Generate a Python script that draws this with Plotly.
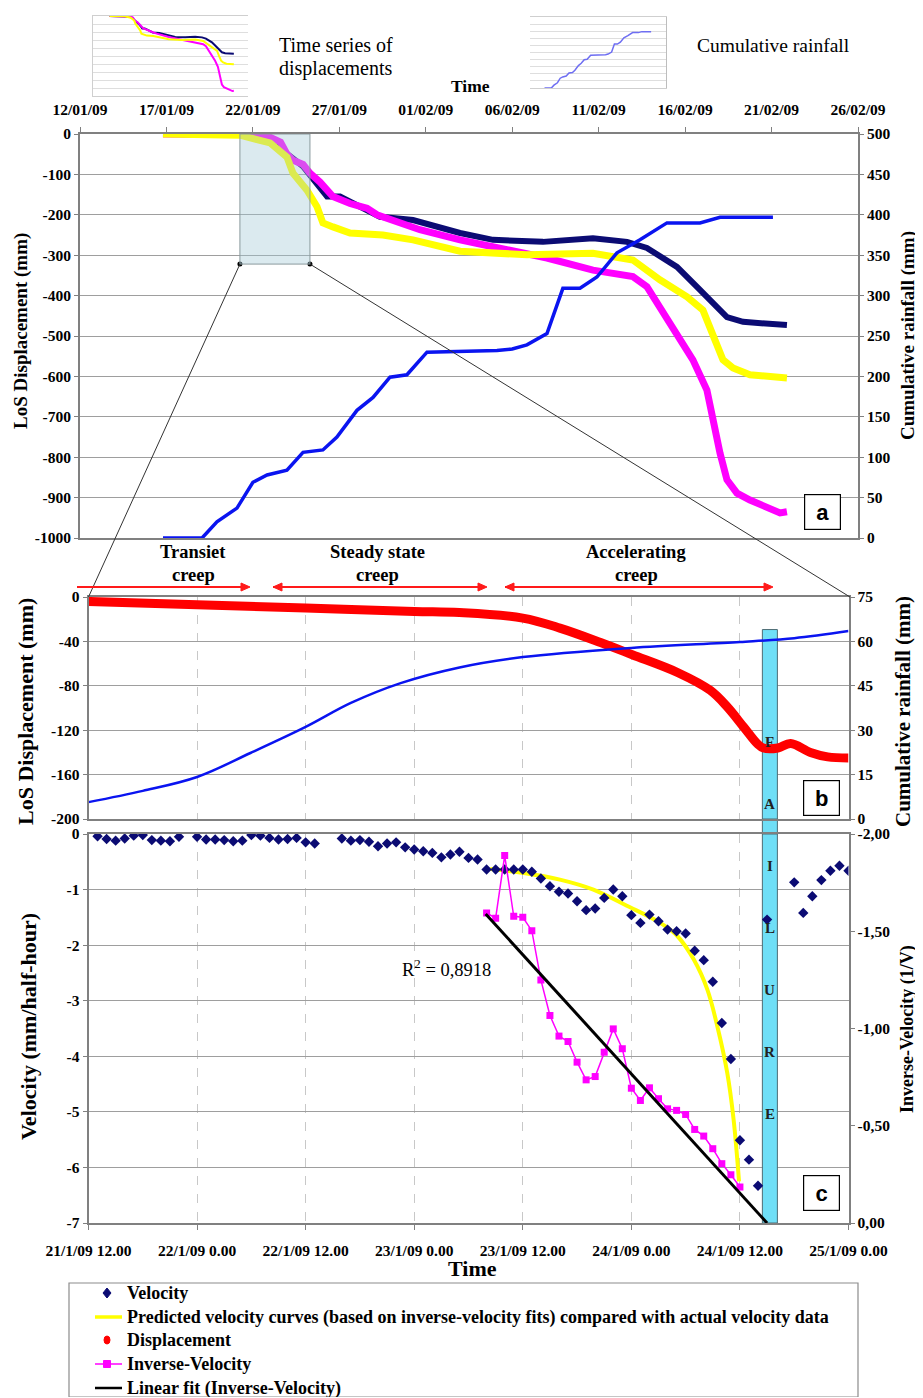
import pandas as pd
import plotly.graph_objects as go

PAGE_W, PAGE_H = 923, 1398
OFF = 8                      # browser body margin
W, H = 914, 1389             # figure size inside the page

# ---------------- data ----------------
# Panel a (days since 12/01/09)
disp_base = "2009-01-12"
navy_days = [4.80, 9.25, 11.0, 12.0, 12.9, 13.5, 14.05, 14.29, 15.04, 15.79, 17.35, 19.26,
             21.98, 23.89, 26.78, 29.67, 31.64, 32.79, 34.53, 35.86, 36.61, 37.42, 38.35, 40.89]
navy_mm = [0, -2, -10, -50, -80, -110, -140, -155, -155, -172, -205, -213,
           -245, -262, -267, -258, -267, -282, -329, -386, -418, -453, -465, -473]
magenta_days = [4.80, 9.25, 10.99, 11.6, 11.97, 12.32, 12.9, 13.30, 13.88, 14.63, 15.62, 16.60,
                17.18, 18.51, 19.66, 21.98, 24.99, 27.01, 29.67, 31.98, 32.79, 33.54, 34.53,
                35.45, 36.26, 36.61, 37.02, 37.42, 38.0, 38.75, 39.73, 40.49, 40.89]
magenta_mm = [0, 0, -8, -20, -50, -65, -75, -97, -119, -155, -172, -184,
              -200, -220, -237, -262, -290, -307, -337, -353, -378, -428, -502,
              -559, -634, -708, -790, -856, -889, -906, -923, -938, -935]
yellow_days = [4.80, 9.25, 10.99, 11.97, 12.32, 13.13, 13.71, 14.05, 14.63, 15.62, 17.52, 19.26,
               21.98, 25.85, 29.67, 31.98, 33.54, 35.11, 36.03, 36.61, 37.19, 37.77, 38.75, 40.89]
yellow_mm = [0, -3, -22, -57, -97, -139, -180, -220, -230, -245, -250, -262,
             -290, -299, -295, -312, -361, -403, -436, -502, -559, -579, -596, -604]
rain_days = [4.80, 7.06, 7.92, 9.08, 10.0, 10.82, 11.97, 12.9, 14.05, 14.86, 16.02, 16.95,
             17.93, 18.91, 20.07, 24.12, 25.0, 25.85, 27.01, 27.93, 28.92, 29.90, 31.06,
             32.39, 33.95, 35.86, 37.02, 40.08]
rain_mm = [0, 0, 20, 37, 69, 78, 84, 106, 109, 125, 158, 174,
           199, 202, 230, 232, 234, 239, 253, 309, 309, 323, 353,
           369, 390, 390, 397, 397]
zoom_window_days = [9.25, 13.3]
zoom_window_depth = -322
a_tick_days = [0, 5, 10, 15, 20, 25, 30, 35, 40, 45]
a_tick_text = ["12/01/09", "17/01/09", "22/01/09", "27/01/09", "01/02/09",
               "06/02/09", "11/02/09", "16/02/09", "21/02/09", "26/02/09"]
a_disp_ticks = [0, -100, -200, -300, -400, -500, -600, -700, -800, -900, -1000]
a_disp_text = ["0", "-100", "-200", "-300", "-400", "-500", "-600", "-700", "-800", "-900", "-1000"]

# Panels b, c (hours since 21/1/09 12.00)
detail_base = "2009-01-21 12:00"
b_hours = [0, 12, 24, 36, 41, 48, 52.1, 56.6, 60.1, 65.1, 68.7, 70.6, 72.4, 73.9, 74.6,
           76.2, 77.6, 79.8, 81.7, 84]
b_disp = [-4, -7, -10, -13, -14, -19, -28, -41, -52, -68, -84, -99, -117, -132, -136,
          -136, -132, -140, -144, -145]
b_rain_hours = [0, 6, 12, 17.9, 24, 29, 34.5, 41, 48, 60, 72, 78, 84]
b_rain_mm = [5.7, 9.5, 14.2, 22.3, 31.1, 39.2, 45.9, 51.2, 54.7, 57.8, 59.8, 61.1, 63.5]
b_disp_ticks = [0, -40, -80, -120, -160, -200]
b_disp_text = ["0", "-40", "-80", "-120", "-160", "-200"]

vel_hours = [1, 2, 3, 4, 5, 6, 7, 8, 9, 10,
             12, 13, 14, 15, 16, 17, 18, 19, 20, 21, 22, 23, 24, 25,
             28, 29, 30, 31, 32, 33, 34, 35, 36, 37, 38, 39, 40, 41,
             42, 43, 44, 45, 46, 47, 48, 49, 50, 51, 52, 53, 54, 55, 56, 57, 58, 59,
             60, 61, 62, 63, 64, 65, 66, 67, 68, 69, 70, 71, 72, 73, 74, 75,
             78, 79, 80, 81, 82, 83, 84]
velocity = [-0.04, -0.09, -0.12, -0.08, -0.03, -0.02, -0.11, -0.12, -0.13, -0.05,
            -0.05, -0.10, -0.10, -0.11, -0.13, -0.12, -0.02, -0.03, -0.07, -0.10, -0.09, -0.07, -0.15, -0.17,
            -0.08, -0.12, -0.11, -0.14, -0.22, -0.17, -0.15, -0.24, -0.28, -0.31, -0.34, -0.42, -0.37, -0.32,
            -0.43, -0.46, -0.64, -0.64, -0.64, -0.64, -0.64, -0.68, -0.80, -0.94, -1.04, -1.07, -1.21, -1.37,
            -1.34, -1.15, -1.00, -1.12,
            -1.46, -1.60, -1.45, -1.57, -1.72, -1.75, -1.79, -2.10, -2.27, -2.66, -3.40, -4.05, -5.51, -5.86,
            -6.33, -1.54,
            -0.87, -1.42, -1.12, -0.83, -0.66, -0.57, -0.66]
pred_hours = [44.4, 48.1, 52.1, 55.8, 59.5, 63.2, 65.1, 66.9, 68.4, 69.5, 70.6, 71.3, 71.9]
pred_velocity = [-0.63, -0.70, -0.82, -1.0, -1.29, -1.6, -1.84, -2.26, -2.80, -3.46, -4.30, -5.14, -6.25]
inv_hours = [44, 45, 46, 47, 48, 49, 50, 51, 52, 53, 54, 55, 56, 57, 58, 59,
             60, 61, 62, 63, 64, 65, 66, 67, 68, 69, 70, 71, 72]
inv_velocity = [-1.594, -1.567, -1.889, -1.577, -1.572, -1.503, -1.250, -1.067, -0.961, -0.933,
                -0.827, -0.736, -0.753, -0.878, -0.998, -0.896, -0.693, -0.630, -0.695, -0.639,
                -0.587, -0.579, -0.558, -0.481, -0.447, -0.382, -0.305, -0.248, -0.185]
fit_hours = [43.9, 75.0]
fit_inv_velocity = [-1.589, 0.0]
failure_hours = [74.48, 76.14]
failure_top_rain = 64
c_tick_hours = [0, 12, 24, 36, 48, 60, 72, 84]
c_tick_text = ["21/1/09 12.00", "22/1/09 0.00", "22/1/09 12.00", "23/1/09 0.00",
               "23/1/09 12.00", "24/1/09 0.00", "24/1/09 12.00", "25/1/09 0.00"]
vel_ticks = [0, -1, -2, -3, -4, -5, -6, -7]
vel_tick_text = ["0", "-1", "-2", "-3", "-4", "-5", "-6", "-7"]
inv_ticks = [0, -0.5, -1.0, -1.5, -2.0]
inv_tick_text = ["0,00", "-0,50", "-1,00", "-1,50", "-2,00"]
r2_text = "R<sup>2</sup> = 0,8918"
legend_labels = ["Velocity",
                 "Predicted velocity curves (based on inverse-velocity fits) compared with actual velocity data",
                 "Displacement", "Inverse-Velocity", "Linear fit (Inverse-Velocity)"]

# ---------------- helpers ----------------
SERIF = "Liberation Serif"
SANS = "Liberation Sans"
GRID = "#9e9e9e"
AXIS = "#808080"
NAVY = "#0b0b73"
MAG = "#ff00ff"
YEL = "#ffff00"
BLUE = "#0a14f0"


def pxx(x):
    return (x - OFF) / W


def pxy(y):
    return 1 - (y - OFF) / H


A_X = [pxx(80), pxx(858)]
A_Y = [pxy(538), pxy(134)]
BC_X = [pxx(88.5), pxx(848.5)]
B_Y = [pxy(819), pxy(597)]
C_Y = [pxy(1223), pxy(834)]
T1_X = [pxx(93), pxx(248)]
T1_Y = [pxy(96), pxy(16)]
T2_X = [pxx(530), pxx(666)]
T2_Y = [pxy(88), pxy(17)]

base_a = pd.Timestamp(disp_base)
base_c = pd.Timestamp(detail_base)


def ta(days):
    return [base_a + pd.Timedelta(days=float(d)) for d in days]


def tc(hours):
    return [base_c + pd.Timedelta(hours=float(h)) for h in hours]


A_RANGE = [base_a, base_a + pd.Timedelta(days=45)]
C_RANGE = [base_c, base_c + pd.Timedelta(hours=84)]


def a_paper_x(d):
    return A_X[0] + d / 45 * (A_X[1] - A_X[0])


def a_paper_y(v):
    return A_Y[0] + (v + 1000) / 1000 * (A_Y[1] - A_Y[0])


tick_font = dict(family=SERIF, size=15.5, color="black", weight="bold")

fig = go.Figure()

# ---- panel a ----
fig.add_trace(go.Scatter(x=ta(navy_days), y=navy_mm, mode="lines", line=dict(color=NAVY, width=6),
                         xaxis="x", yaxis="y", showlegend=False, name="Displacement (navy)"))
fig.add_trace(go.Scatter(x=ta(magenta_days), y=magenta_mm, mode="lines", line=dict(color=MAG, width=7),
                         xaxis="x", yaxis="y", showlegend=False, name="Displacement (magenta)"))
fig.add_trace(go.Scatter(x=ta(yellow_days), y=yellow_mm, mode="lines", line=dict(color=YEL, width=7),
                         xaxis="x", yaxis="y", showlegend=False, name="Displacement (yellow)"))
fig.add_trace(go.Scatter(x=ta(zoom_window_days), y=[zoom_window_depth] * 2, mode="markers",
                         marker=dict(color="black", size=5), xaxis="x", yaxis="y", showlegend=False))
fig.add_trace(go.Scatter(x=ta(rain_days), y=rain_mm, mode="lines", line=dict(color=BLUE, width=3.5),
                         xaxis="x", yaxis="y2", showlegend=False, name="Cumulative rainfall"))

# ---- thumbnails ----
for d, v, c in [(navy_days, navy_mm, NAVY), (magenta_days, magenta_mm, MAG), (yellow_days, yellow_mm, YEL)]:
    fig.add_trace(go.Scatter(x=ta(d), y=v, mode="lines", line=dict(color=c, width=2),
                             xaxis="x4", yaxis="y7", showlegend=False))
fig.add_trace(go.Scatter(x=ta(rain_days), y=rain_mm, mode="lines", line=dict(color="#6e6ef2", width=1.5),
                         xaxis="x5", yaxis="y8", showlegend=False))

# ---- panel b ----
fig.add_trace(go.Scatter(x=tc(b_hours), y=b_disp, mode="lines", line=dict(color="#ff0000", width=9, shape="spline"),
                         xaxis="x2", yaxis="y3", showlegend=False, name="Displacement"))
fig.add_trace(go.Scatter(x=tc(b_rain_hours), y=b_rain_mm, mode="lines",
                         line=dict(color=BLUE, width=2.5, shape="spline"),
                         xaxis="x2", yaxis="y4", showlegend=False, name="Cumulative rainfall"))

# ---- panel c ----
fig.add_trace(go.Scatter(x=tc(pred_hours), y=pred_velocity, mode="lines",
                         line=dict(color=YEL, width=4, shape="spline"),
                         xaxis="x3", yaxis="y5", showlegend=False, name="Predicted velocity"))
fig.add_trace(go.Scatter(x=tc(vel_hours), y=velocity, mode="markers",
                         marker=dict(symbol="diamond", color=NAVY, size=8),
                         xaxis="x3", yaxis="y5", showlegend=False, name="Velocity"))
fig.add_trace(go.Scatter(x=tc(inv_hours), y=inv_velocity, mode="lines+markers",
                         line=dict(color=MAG, width=1.5),
                         marker=dict(symbol="square", color=MAG, size=7),
                         xaxis="x3", yaxis="y6", showlegend=False, name="Inverse-Velocity"))
fig.add_trace(go.Scatter(x=tc(fit_hours), y=fit_inv_velocity, mode="lines",
                         line=dict(color="black", width=3),
                         xaxis="x3", yaxis="y6", showlegend=False, name="Linear fit"))


# ---------------- axes ----------------
def yax(domain, rng, anchor, tickvals, ticktext, grid=True, side="left", overlaying=None):
    d = dict(domain=domain, range=rng, anchor=anchor, side=side, showgrid=grid, gridcolor=GRID, gridwidth=1.3,
             zeroline=False, showline=True, linecolor=AXIS, linewidth=2, ticks="outside", ticklen=4,
             tickcolor=AXIS, tickfont=tick_font, automargin=False,
             tickmode="array", tickvals=tickvals, ticktext=ticktext)
    if overlaying:
        d["overlaying"] = overlaying
    return d


rain_a_ticks = list(range(0, 501, 50))
rain_b_ticks = list(range(0, 76, 15))

layout = dict(
    width=W, height=H, margin=dict(l=0, r=0, t=0, b=0, pad=0, autoexpand=False), autosize=False,
    paper_bgcolor="white", plot_bgcolor="white", showlegend=False,
    xaxis=dict(domain=A_X, anchor="y", side="top", type="date", range=A_RANGE,
               tickmode="array", tickvals=ta(a_tick_days), ticktext=a_tick_text,
               tickfont=tick_font, ticks="outside", ticklen=5, tickcolor=AXIS,
               ticklabelstandoff=6, showgrid=False, zeroline=False, automargin=False,
               showline=True, linecolor=AXIS, linewidth=1.5, mirror=True),
    yaxis=yax(A_Y, [-1000, 0], "x", a_disp_ticks, a_disp_text),
    yaxis2=yax(A_Y, [0, 500], "x", rain_a_ticks, [str(v) for v in rain_a_ticks],
               grid=False, side="right", overlaying="y"),
    xaxis2=dict(domain=BC_X, anchor="y3", type="date", range=C_RANGE, tickmode="array",
                tickvals=tc(c_tick_hours), showticklabels=False, ticks="", automargin=False,
                showgrid=True, gridcolor="#c8c8c8", griddash="dash", gridwidth=1,
                zeroline=False, showline=True, linecolor=AXIS, linewidth=1.5, mirror=True),
    yaxis3=yax(B_Y, [-200, 0], "x2", b_disp_ticks, b_disp_text),
    yaxis4=yax(B_Y, [0, 75], "x2", rain_b_ticks, [str(v) for v in rain_b_ticks],
               grid=False, side="right", overlaying="y3"),
    xaxis3=dict(domain=BC_X, anchor="y5", type="date", range=C_RANGE, tickmode="array",
                tickvals=tc(c_tick_hours), ticktext=c_tick_text, tickfont=tick_font,
                ticks="outside", ticklen=5, tickcolor=AXIS, ticklabelstandoff=7, automargin=False,
                showgrid=True, gridcolor="#c8c8c8", griddash="dash", gridwidth=1,
                zeroline=False, showline=True, linecolor=AXIS, linewidth=2, mirror=True),
    yaxis5=yax(C_Y, [-7, 0], "x3", vel_ticks, vel_tick_text),
    yaxis6=yax(C_Y, [0, -2], "x3", inv_ticks, inv_tick_text, grid=False, side="right", overlaying="y5"),
    xaxis4=dict(domain=T1_X, anchor="y7", type="date", range=A_RANGE, showticklabels=False, automargin=False,
                showgrid=False, zeroline=False, showline=True, linecolor="#cfcfcf", mirror=True),
    yaxis7=dict(domain=T1_Y, anchor="x4", range=[-1000, 0], dtick=100, showticklabels=False, automargin=False,
                showgrid=True, gridcolor="#dedede", zeroline=False, showline=True, linecolor="#cfcfcf"),
    xaxis5=dict(domain=T2_X, anchor="y8", type="date", range=A_RANGE, showticklabels=False, automargin=False,
                showgrid=False, zeroline=False, showline=True, linecolor="#cfcfcf", mirror=True),
    yaxis8=dict(domain=T2_Y, anchor="x5", side="right", range=[0, 500], dtick=50, showticklabels=False,
                automargin=False, showgrid=True, gridcolor="#dedede", zeroline=False, showline=True,
                linecolor="#bdbdbd"),
)
fig.update_layout(**layout)

# ---------------- shapes ----------------
shapes = []
# zoom window in panel a
shapes.append(dict(type="rect", xref="x", yref="y", x0=ta([zoom_window_days[0]])[0], x1=ta([zoom_window_days[1]])[0],
                   y0=zoom_window_depth, y1=0, fillcolor="rgba(160,200,212,0.38)",
                   line=dict(color="#8a9a9e", width=1), layer="above"))
# connectors
shapes.append(dict(type="line", xref="paper", yref="paper",
                   x0=a_paper_x(zoom_window_days[0]), y0=a_paper_y(zoom_window_depth),
                   x1=BC_X[0], y1=B_Y[1], line=dict(color="#333333", width=1)))
shapes.append(dict(type="line", xref="paper", yref="paper",
                   x0=a_paper_x(zoom_window_days[1]), y0=a_paper_y(zoom_window_depth),
                   x1=pxx(850), y1=B_Y[1], line=dict(color="#333333", width=1)))
# failure bar (panel b part, gap, panel c part)
FAIL_FILL = "#6fdff7"
FAIL_LINE = "#4d6b73"
fx0, fx1 = tc(failure_hours)
top_b = -200 + failure_top_rain / 75 * 200
shapes.append(dict(type="rect", xref="x2", yref="y3", x0=fx0, x1=fx1, y0=-200, y1=top_b,
                   fillcolor=FAIL_FILL, line=dict(color=FAIL_LINE, width=1), layer="between"))
shapes.append(dict(type="rect", xref="x3", yref="y5", x0=fx0, x1=fx1, y0=-7, y1=0,
                   fillcolor=FAIL_FILL, line=dict(color=FAIL_LINE, width=1), layer="between"))
shapes.append(dict(type="rect", xref="x3", yref="paper", x0=fx0, x1=fx1, y0=C_Y[1], y1=B_Y[0],
                   fillcolor=FAIL_FILL, line=dict(color=FAIL_LINE, width=1), layer="below"))


# phase arrows (lines + triangular heads)
def head(xh, y, direction):
    return dict(type="path", xref="paper", yref="paper",
                path=f"M {pxx(xh)},{pxy(y)} L {pxx(xh - 9 * direction)},{pxy(y - 4)} "
                     f"L {pxx(xh - 9 * direction)},{pxy(y + 4)} Z",
                fillcolor="#ff1a1a", line=dict(color="#ff1a1a", width=1))


ARROW_Y = 587
for x0, x1, both in [(77, 250, False), (273, 487, True), (505, 773, True)]:
    shapes.append(dict(type="line", xref="paper", yref="paper", x0=pxx(x0), x1=pxx(x1 - 4),
                       y0=pxy(ARROW_Y), y1=pxy(ARROW_Y), line=dict(color="#ff1a1a", width=2)))
    shapes.append(head(x1, ARROW_Y, 1))
    if both:
        shapes.append(head(x0, ARROW_Y, -1))

# legend box and glyphs
shapes.append(dict(type="rect", xref="paper", yref="paper", x0=pxx(69), x1=pxx(858), y0=pxy(1397), y1=pxy(1283),
                   line=dict(color="#8c8c8c", width=1.2), fillcolor="rgba(0,0,0,0)"))
leg_y = [1293, 1317, 1340, 1364, 1388]
gx = 107
shapes.append(dict(type="path", xref="paper", yref="paper",
                   path=f"M {pxx(gx)},{pxy(leg_y[0]-5)} L {pxx(gx+4)},{pxy(leg_y[0])} L {pxx(gx)},{pxy(leg_y[0]+5)} L {pxx(gx-4)},{pxy(leg_y[0])} Z",
                   fillcolor=NAVY, line=dict(color=NAVY, width=1)))
shapes.append(dict(type="line", xref="paper", yref="paper", x0=pxx(95), x1=pxx(122), y0=pxy(leg_y[1]), y1=pxy(leg_y[1]),
                   line=dict(color=YEL, width=3.5)))
shapes.append(dict(type="circle", xref="paper", yref="paper", x0=pxx(gx-3), x1=pxx(gx+3), y0=pxy(leg_y[2]-4), y1=pxy(leg_y[2]+4),
                   fillcolor="#ff0000", line=dict(color="#ff0000", width=1)))
shapes.append(dict(type="line", xref="paper", yref="paper", x0=pxx(95), x1=pxx(122), y0=pxy(leg_y[3]), y1=pxy(leg_y[3]),
                   line=dict(color=MAG, width=1.5)))
shapes.append(dict(type="rect", xref="paper", yref="paper", x0=pxx(gx-3.5), x1=pxx(gx+3.5), y0=pxy(leg_y[3]-3.5), y1=pxy(leg_y[3]+3.5),
                   fillcolor=MAG, line=dict(color=MAG, width=1)))
shapes.append(dict(type="line", xref="paper", yref="paper", x0=pxx(95), x1=pxx(122), y0=pxy(leg_y[4]), y1=pxy(leg_y[4]),
                   line=dict(color="black", width=2.5)))

# ---------------- annotations ----------------
ann = []


def text(x, y, s, size, bold=False, anchor="center", family=SERIF, angle=0, color="black"):
    ann.append(dict(x=pxx(x), y=pxy(y), xref="paper", yref="paper", text=s, showarrow=False,
                    xanchor=anchor, yanchor="middle", textangle=angle,
                    font=dict(family=family, size=size, color=color, weight="bold" if bold else "normal")))


# top thumbnails captions
text(277, 45, "Time series of", 20, anchor="left")
text(277, 68, "displacements", 20, anchor="left")
text(695, 45, "Cumulative rainfall", 19.5, anchor="left")
text(470, 86, "Time", 17.5, bold=True)

# axis titles
text(21, 331, "LoS Displacement (mm)", 19, bold=True, angle=-90)
text(908, 336, "Cumulative rainfall (mm)", 19, bold=True, angle=-90)
text(25, 712, "LoS Displacement (mm)", 22, bold=True, angle=-90)
text(903, 712, "Cumulative rainfall (mm)", 21, bold=True, angle=-90)
text(28, 1027, "Velocity (mm/half-hour)", 22, bold=True, angle=-90)
text(908, 1029, "Inverse-Velocity (1/V)", 18, bold=True, angle=-90)
text(472, 1268, "Time", 22, bold=True)

# phase labels
text(193, 552, "Transiet", 18.5, bold=True)
text(193, 575, "creep", 18.5, bold=True)
text(377, 552, "Steady state", 18.5, bold=True)
text(377, 575, "creep", 18.5, bold=True)
text(636, 552, "Accelerating", 18.5, bold=True)
text(636, 575, "creep", 18.5, bold=True)

# R squared
text(400, 968, r2_text, 18.5, anchor="left")

# FAILURE letters
fail_mid = tc([(failure_hours[0] + failure_hours[1]) / 2])[0]
for i, ch in enumerate("FAILURE"):
    ann.append(dict(x=fail_mid, y=pxy(742 + 62 * i), xref="x3", yref="paper", text=ch, showarrow=False,
                    xanchor="center", yanchor="middle",
                    font=dict(family=SERIF, size=15, color="#222222", weight="bold")))

# panel letters
for lab, cx, cy in [("a", 822, 512), ("b", 821, 798), ("c", 821, 1193)]:
    ann.append(dict(x=pxx(cx), y=pxy(cy), xref="paper", yref="paper", text=lab, showarrow=False,
                    xanchor="center", yanchor="middle", width=31, height=30, bgcolor="white",
                    bordercolor="black", borderwidth=1.2, borderpad=2,
                    font=dict(family=SANS, size=22, color="black", weight="bold")))

# legend texts
for lab, y in zip(legend_labels, leg_y):
    text(125, y, lab, 18, bold=True, anchor="left")

fig.update_layout(shapes=shapes, annotations=ann)
fig.write_html("out.html")
